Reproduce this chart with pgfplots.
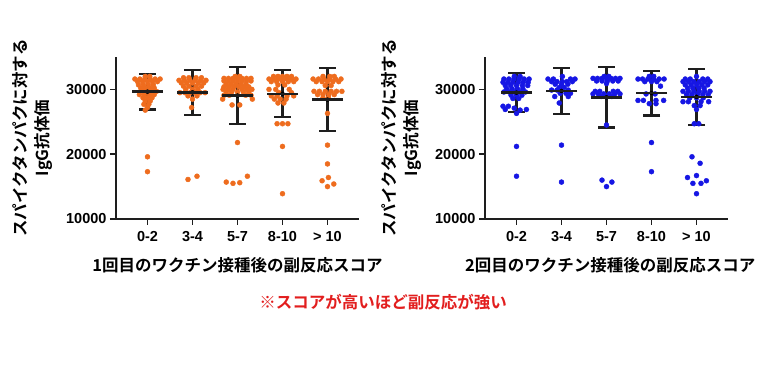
\documentclass[border=0pt]{standalone}
\usepackage{pgfplots}
\pgfplotsset{compat=1.18}
\usepackage{fontspec}
\setmainfont{Liberation Sans}
\newfontfamily\jp{Noto Sans CJK JP}[BoldFont={Noto Sans CJK JP Bold}]
\definecolor{orng}{RGB}{238,108,30}
\definecolor{blu}{RGB}{22,22,228}
\definecolor{txtred}{RGB}{226,30,30}
\definecolor{axc}{RGB}{30,30,30}
\pgfplotsset{
  myax/.style={
    scale only axis, width=243pt, height=162pt,
    xmin=-0.7, xmax=4.7, ymin=10000, ymax=35000,
    scaled y ticks=false,
    axis x line*=bottom, axis y line*=left,
    axis line style={line width=1.8pt, axc, -},
    tick style={line width=1.6pt, axc},
    tick align=outside, major tick length=6pt,
    xtick={0,1,2,3,4}, xticklabels={0-2,3-4,5-7,8-10,> 10},
    ytick={10000,20000,30000}, yticklabels={10000,20000,30000},
    ticklabel style={font=\bfseries\fontsize{14.5}{15}\selectfont, text=black},
    xticklabel style={yshift=-3pt},
    ylabel style={at={(axis description cs:-0.345,0.5)}, anchor=center, align=center,
      font=\jp\bfseries\fontsize{16.5}{22}\selectfont},
    ylabel={スパイクタンパクに対する\\IgG抗体価},
    xlabel style={anchor=center, font=\jp\bfseries\fontsize{16.5}{20}\selectfont},
    clip=false,
  },
  dots/.style={color=#1, only marks, mark=*, mark size=2.5pt, mark options={draw=none, fill=#1}},
  ebar/.style={only marks, mark=none, error bars/.cd, y dir=both, y explicit,
    error bar style={line width=2.2pt, axc, solid},
    error mark options={rotate=90, mark size=8.5pt, line width=2.2pt, axc}},
  meanl/.style={only marks, mark=-, mark size=15.5pt, mark options={line width=2.4pt, axc}},
}
\begin{document}
\begin{tikzpicture}[x=1pt,y=1pt]
\path[use as bounding box] (0,0) rectangle (766,372);
% ---------------- left axis ----------------
\begin{axis}[myax, at={(116pt,153pt)}, anchor=south west,
  xlabel style={at={(axis description cs:0.5,-0.285)}},
  xlabel={1回目のワクチン接種後の副反応スコア}]
\addplot[dots=orng] coordinates {
(-0.05,32000)(0.05,32000)
(-0.28,31600)(-0.17,31600)(-0.06,31600)(0.06,31600)(0.17,31600)(0.28,31600)
(-0.22,31200)(-0.11,31200)(0,31200)(0.11,31200)(0.22,31200)
(-0.2,30700)(-0.09,30700)(0.02,30700)(0.13,30700)
(-0.15,30200)(-0.05,30200)(0.05,30200)(0.15,30200)
(-0.1,29700)(0,29700)(0.1,29700)(0.2,29700)
(-0.18,29200)(-0.07,29200)(0.05,29200)(0.15,29200)
(-0.1,28700)(0,28700)(0.1,28700)
(-0.05,28200)(0.06,28200)
(-0.08,27700)(0.03,27700)
(0,27200)(-0.05,26800)
(0,19600)(0,17300)
(0.8,31800)(0.92,31800)(1.08,31800)(1.2,31800)
(0.7,31400)(0.82,31400)(0.94,31400)(1.06,31400)(1.18,31400)(1.3,31400)
(0.75,31000)(0.87,31000)(1,31000)(1.13,31000)(1.25,31000)
(0.8,30500)(0.92,30500)(1.08,30500)(1.2,30500)
(0.85,30000)(1,30000)(1.12,30000)
(0.72,29500)(0.83,29500)(0.95,29500)(1.06,29500)(1.17,29500)(1.28,29500)
(0.9,29000)(1.1,29000)
(1,28500)
(0.98,27200)
(0.9,16100)(1.1,16600)
(1.95,32000)(2.05,32000)
(1.7,31700)(1.8,31700)(1.9,31700)(2,31700)(2.1,31700)(2.2,31700)(2.3,31700)
(1.7,31300)(1.8,31300)(1.9,31300)(2,31300)(2.1,31300)(2.2,31300)(2.3,31300)
(1.75,30800)(1.86,30800)(1.97,30800)(2.08,30800)(2.19,30800)
(1.7,30400)(1.81,30400)(1.92,30400)(2.03,30400)(2.14,30400)(2.25,30400)
(1.68,30000)(1.79,30000)(1.9,30000)(2.1,30000)(2.21,30000)(2.32,30000)
(1.75,29600)(1.87,29600)(2,29600)(2.13,29600)(2.25,29600)
(1.7,29100)(1.82,29100)(2.18,29100)(2.3,29100)
(1.67,28500)(2.33,28500)
(1.88,27600)(2.05,27600)
(2,21800)
(1.75,15700)(1.9,15500)(2.05,15600)(2.22,16600)
(2.8,32000)(2.9,32000)(3,32000)(3.1,32000)(3.2,32000)
(2.7,31600)(2.8,31600)(2.9,31600)(3,31600)(3.1,31600)(3.2,31600)(3.3,31600)
(2.75,31200)(2.87,31200)(3,31200)(3.13,31200)(3.25,31200)
(2.9,30700)(3.05,30700)
(2.7,30000)(2.85,30000)(3.15,30000)
(2.92,29500)(3.2,29500)
(2.75,29000)(2.88,29000)(3.1,29000)(3.25,29000)
(2.82,28500)(2.95,28500)(3.08,28500)
(2.9,27900)(3.03,27900)
(2.88,24700)(3,24700)(3.12,24700)
(3,21200)
(3,13900)
(3.9,32000)(4.05,32000)(4.15,32000)
(3.68,31600)(3.8,31600)(3.92,31600)(4.05,31600)(4.18,31600)(4.3,31600)
(3.75,31200)(3.88,31200)(4,31200)(4.12,31200)(4.25,31200)
(3.95,30600)(4.08,30600)
(3.7,29700)(3.82,29700)(3.95,29700)(4.08,29700)(4.2,29700)(4.32,29700)
(3.78,29200)(3.9,29200)(4.03,29200)(4.15,29200)
(3.9,28700)(4.02,28700)
(4,26300)(4,21400)(4,18500)(4.02,16400)(3.88,15900)(4,15000)(4.14,15400)
};
\addplot[ebar] coordinates {
(0,29650) +- (0,2750)
(1,29550) +- (0,3450)
(2,29050) +- (0,4420)
(3,29330) +- (0,3620)
(4,28420) +- (0,4880)
};
\addplot[meanl] coordinates {(0,29650)(1,29550)(2,29050)(3,29330)(4,28420)};
\end{axis}
% ---------------- right axis ----------------
\begin{axis}[myax, at={(485pt,153pt)}, anchor=south west,
  xlabel style={at={(axis description cs:0.515,-0.285)}},
  xlabel={2回目のワクチン接種後の副反応スコア}]
\addplot[dots=blu] coordinates {
(-0.05,32000)(0.08,32000)
(-0.28,31600)(-0.17,31600)(-0.06,31600)(0.06,31600)(0.17,31600)(0.28,31600)
(-0.3,31100)(-0.19,31100)(-0.08,31100)(0.04,31100)(0.15,31100)(0.26,31100)
(-0.25,30600)(-0.13,30600)(0,30600)(0.13,30600)(0.25,30600)
(-0.22,30100)(-0.1,30100)(0.02,30100)(0.14,30100)
(-0.28,29600)(-0.16,29600)(-0.04,29600)(0.08,29600)(0.2,29600)
(-0.12,29100)(0,29100)(0.12,29100)
(-0.08,28600)(0.05,28600)
(-0.3,27400)(-0.18,27400)
(-0.05,27100)
(-0.25,26900)(0.08,26800)(0.22,26900)
(0,26300)
(0,21200)(0,16600)
(1.02,32000)
(0.7,31600)(0.82,31600)(1.2,31600)(1.3,31600)
(0.78,31200)(0.9,31200)(1.02,31200)(1.12,31200)(1.24,31200)
(0.86,30800)(1,30800)(1.14,30800)
(0.95,30300)(1.06,30300)
(0.78,29900)(0.9,29900)(1.15,29900)
(0.97,29400)(1.1,29400)(1.2,29400)
(0.85,28900)(1.15,28900)
(0.95,27900)
(1,21400)(1,15700)
(1.95,32000)(2.05,32000)
(1.7,31700)(1.8,31700)(1.9,31700)(2,31700)(2.1,31700)(2.2,31700)(2.3,31700)
(1.78,31300)(1.9,31300)(2.02,31300)(2.14,31300)(2.26,31300)
(2,30900)
(1.75,29700)(1.85,29700)(2.15,29700)(2.25,29700)
(1.7,29300)(1.82,29300)(1.94,29300)(2.06,29300)(2.18,29300)(2.3,29300)
(1.88,28900)(2,28900)(2.12,28900)
(2,24500)
(1.9,16000)(2,15000)(2.12,15700)
(2.95,32000)(3.05,32000)
(2.7,31600)(2.8,31600)(2.92,31600)(3.05,31600)(3.17,31600)(3.28,31600)
(2.85,31200)(3,31200)(3.12,31200)
(3.2,30500)
(2.88,29300)(3.08,29300)
(2.7,28300)(2.82,28300)(3.1,28300)(3.27,28300)
(2.95,27800)(3.1,27800)
(3,21800)(3,17300)
(4,32000)
(3.75,31600)(3.86,31600)(4.14,31600)(4.25,31600)
(3.7,31200)(3.82,31200)(3.94,31200)(4.06,31200)(4.18,31200)(4.3,31200)
(3.75,30700)(3.88,30700)(4,30700)(4.12,30700)(4.25,30700)
(3.8,30200)(3.92,30200)(4.05,30200)(4.17,30200)
(3.7,29700)(3.82,29700)(3.94,29700)(4.06,29700)(4.18,29700)(4.3,29700)
(3.78,29200)(3.9,29200)(4.02,29200)(4.14,29200)(4.26,29200)
(3.85,28700)(4,28700)(4.15,28700)
(3.7,28100)(3.82,28100)(4.1,28100)(4.27,28100)
(3.95,27500)(4.08,27500)
(4,26900)
(3.95,24700)(4.05,24700)
(3.9,19600)(4.08,18600)(4,16700)(3.8,16400)(4.22,15900)(3.92,15500)(4.1,15500)(4,13900)
};
\addplot[ebar] coordinates {
(0,29500) +- (0,3000)
(1,29750) +- (0,3500)
(2,28770) +- (0,4640)
(3,29430) +- (0,3470)
(4,28850) +- (0,4350)
};
\addplot[meanl] coordinates {(0,29500)(1,29750)(2,28770)(3,29430)(4,28850)};
\end{axis}
\node[text=txtred, font=\jp\bfseries\fontsize{16.5}{20}\selectfont, anchor=center] at (383,70) {※スコアが高いほど副反応が強い};
\end{tikzpicture}
\end{document}
